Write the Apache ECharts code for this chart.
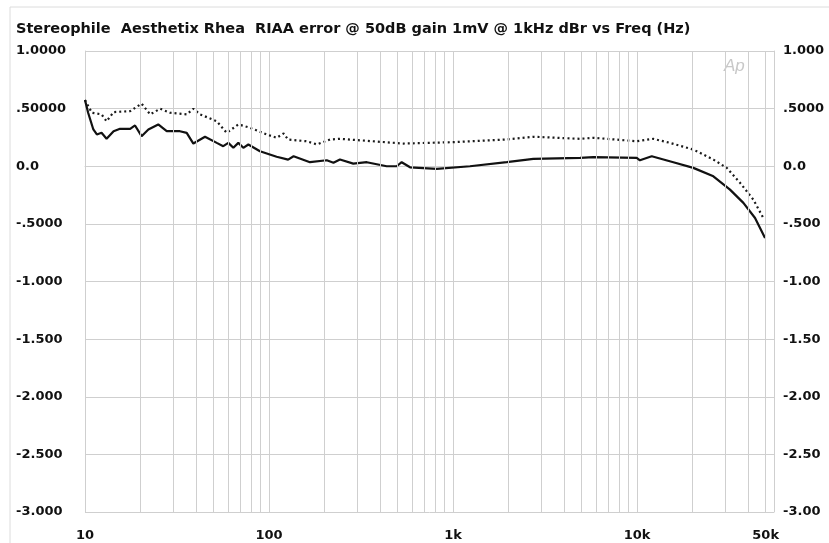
<!DOCTYPE html>
<html><head><meta charset="utf-8">
<script src="https://cdn.jsdelivr.net/npm/echarts@6/dist/echarts.min.js"></script>
<style>html,body{margin:0;padding:0;background:#fff}#c{width:829px;height:543px}</style>
</head><body><div id="c"></div>
<script>
const titleText = 'Stereophile  Aesthetix Rhea  RIAA error @ 50dB gain 1mV @ 1kHz dBr vs Freq (Hz)';
const xTickLabels = {10: '10', 100: '100', 1000: '1k', 10000: '10k'};
const minorGridFreqs = [20,30,40,50,60,70,80,90,200,300,400,500,600,700,800,900,2000,3000,4000,5000,6000,7000,8000,9000,20000,30000,40000];
const extraXTick = 50000;
const extraXLabel = '50k';
const yTicks = [1, 0.5, 0, -0.5, -1, -1.5, -2, -2.5, -3];
const leftYLabels = ['1.0000', '.50000', '0.0', '-.5000', '-1.000', '-1.500', '-2.000', '-2.500', '-3.000'];
const rightYLabels = ['1.000', '.5000', '0.0', '-.500', '-1.00', '-1.50', '-2.00', '-2.50', '-3.00'];

const solidSeries = [[10,0.574],[10.4,0.464],[11.1,0.319],[11.6,0.276],[12.3,0.29],[13.1,0.238],[14.3,0.304],[15.5,0.325],[17.6,0.325],[18.7,0.354],[20.3,0.261],[22.1,0.319],[25.0,0.363],[27.8,0.304],[32.8,0.304],[35.7,0.29],[38.8,0.197],[44.9,0.256],[52,0.203],[56.4,0.174],[60.1,0.203],[64,0.16],[68.1,0.203],[72.5,0.16],[77.2,0.189],[89.3,0.13],[110,0.082],[127,0.058],[136,0.087],[167,0.035],[206,0.052],[224,0.03],[243,0.058],[287,0.023],[340,0.035],[436,0.0],[494,0.0],[526,0.035],[584,-0.009],[815,-0.023],[1236,0],[1959,0.035],[2731,0.064],[4898,0.073],[5791,0.08],[9960,0.073],[10370,0.052],[12020,0.087],[15750,0.035],[20220,-0.014],[25990,-0.087],[32000,-0.203],[37840,-0.318],[43780,-0.449],[49620,-0.623]];

const dottedSeries = [[10,0.574],[10.9,0.464],[12.3,0.45],[13.1,0.39],[14.3,0.47],[17.6,0.478],[20.3,0.543],[22.6,0.45],[25.6,0.499],[29,0.464],[35.7,0.45],[38.8,0.499],[42.2,0.45],[52,0.391],[58.9,0.29],[68.1,0.363],[78.8,0.334],[97.2,0.276],[110,0.247],[120,0.284],[127,0.232],[160,0.217],[182,0.189],[215,0.232],[243,0.238],[537,0.197],[1000,0.209],[1959,0.232],[2731,0.256],[4898,0.238],[5791,0.247],[9960,0.217],[12250,0.238],[15090,0.203],[20220,0.145],[25990,0.058],[30740,-0.014],[36300,-0.144],[42870,-0.29],[48560,-0.449]];

const gridColor = '#cfcfcf';
const labelFont = {color: '#111', fontSize: 13, fontWeight: 'bold', fontFamily: 'DejaVu Sans'};

function yLabel(arr) {
  return function (v) {
    for (let i = 0; i < yTicks.length; i++) if (Math.abs(yTicks[i] - v) < 1e-6) return arr[i];
    return '';
  };
}

const chart = echarts.init(document.getElementById('c'), null, {renderer: 'canvas'});
chart.setOption({
  animation: false,
  backgroundColor: '#fff',
  title: {
    text: titleText, left: 11, top: 17,
    textStyle: {fontSize: 14.5, fontWeight: 'bold', color: '#111', fontFamily: 'DejaVu Sans'}
  },
  graphic: [
    {type: 'rect', shape: {x: 10, y: 7, width: 830, height: 540}, style: {fill: 'none', stroke: '#dcdcdc', lineWidth: 1}, silent: true},
    {type: 'text', left: 724, top: 58, style: {text: 'Ap', fill: '#c8c8c8', font: 'italic 17px "Liberation Sans"'}, silent: true}
  ],
  grid: {left: 85, right: 55, top: 51, bottom: 31},
  xAxis: {
    type: 'log', logBase: 10, min: 10, max: 55500,
    axisLine: {show: true, lineStyle: {color: gridColor}},
    axisTick: {show: false},
    splitLine: {show: true, lineStyle: {color: gridColor, width: 1}},
    axisLabel: Object.assign({margin: 17, formatter: v => xTickLabels[Math.round(v)] || ''}, labelFont)
  },
  yAxis: [
    {
      type: 'value', min: -3, max: 1, interval: 0.5, position: 'left',
      axisLine: {show: true, lineStyle: {color: gridColor}},
      axisTick: {show: false},
      splitLine: {show: true, lineStyle: {color: gridColor, width: 1}},
      axisLabel: Object.assign({margin: 69, align: 'left', formatter: yLabel(leftYLabels)}, labelFont)
    },
    {
      type: 'value', min: -3, max: 1, interval: 0.5, position: 'right',
      axisLine: {show: true, lineStyle: {color: gridColor}},
      axisTick: {show: false},
      splitLine: {show: false},
      axisLabel: Object.assign({margin: 9, align: 'left', formatter: yLabel(rightYLabels)}, labelFont)
    }
  ],
  series: [
    {
      type: 'line', data: dottedSeries, showSymbol: false, symbol: 'none',
      lineStyle: {color: '#1a1a1a', width: 2.2, type: [2, 3]}, z: 3
    },
    {
      type: 'line', data: solidSeries, showSymbol: false, symbol: 'none',
      lineStyle: {color: '#111', width: 2.2}, z: 4,
      markLine: {
        silent: true, symbol: ['none', 'none'], animation: false,
        lineStyle: {color: gridColor, width: 1, type: 'solid'},
        label: {show: false},
        emphasis: {disabled: true},
        data: minorGridFreqs.map(f => ({xAxis: f})).concat([{
          xAxis: extraXTick,
          label: Object.assign({show: true, position: 'start', distance: 17, formatter: extraXLabel}, labelFont)
        }])
      }
    }
  ]
});
</script></body></html>
